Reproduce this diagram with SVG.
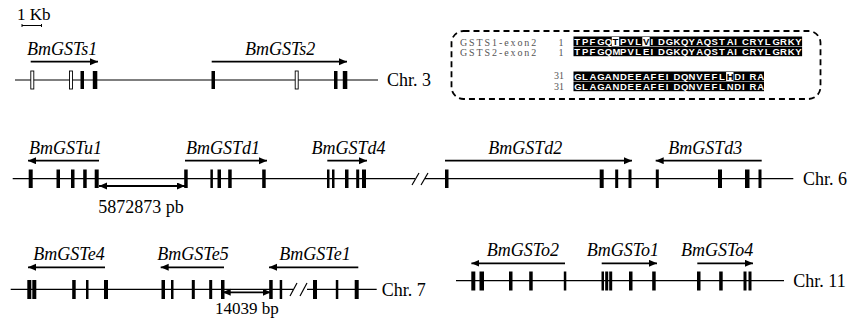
<svg xmlns="http://www.w3.org/2000/svg" width="850" height="322" viewBox="0 0 850 322">
<defs>
<marker id="ah" markerUnits="userSpaceOnUse" markerWidth="9" markerHeight="8" refX="8" refY="3.5" orient="auto-start-reverse"><path d="M0,0 L8,3.5 L0,7 z" fill="#000"/></marker>
<style>
.chr{stroke:#000;stroke-width:1.2;fill:none}
.brk{stroke:#000;stroke-width:1.2}
.ex rect{fill:#000}
.ex rect.o{fill:#fff;stroke:#000;stroke-width:0.9}
.arr{stroke:#000;stroke-width:1.8;marker-end:url(#ah)}
.dbl{stroke:#000;stroke-width:1.8;marker-start:url(#ah);marker-end:url(#ah)}
.g{font-family:"Liberation Serif",serif;font-style:italic;font-size:18px;fill:#000}
.t{font-family:"Liberation Serif",serif;font-size:18px;fill:#000}
.sl{font-family:"Liberation Serif",serif;font-size:10px;letter-spacing:1.9px;fill:#555}
.sn{font-family:"Liberation Serif",serif;font-size:10px;fill:#555}
.sq{font-family:"Liberation Sans",sans-serif;font-weight:bold;font-size:9.5px;fill:#fff}
.hl{fill:#000}
</style>
</defs>

<g id="scale">
<text class="t" x="17" y="20" style="font-size:17px">1 Kb</text>
<line x1="22" y1="25.5" x2="41.5" y2="25.5" stroke="#000" stroke-width="1"/>
<line x1="22" y1="24" x2="22" y2="27" stroke="#000" stroke-width="1"/>
<line x1="41.5" y1="24" x2="41.5" y2="27" stroke="#000" stroke-width="1"/>
</g>

<g id="chr3">
<line class="chr" x1="15" y1="80" x2="378" y2="80"/>
<text class="t" x="387" y="86">Chr. 3</text>
<g class="ex">
<rect class="o" x="30.8" y="71" width="3" height="18"/>
<rect class="o" x="69.5" y="71" width="3" height="18"/>
<rect x="80.5" y="71" width="3.5" height="18"/>
<rect x="92.8" y="71" width="4.5" height="18"/>
<rect x="211.5" y="71" width="3.5" height="18"/>
<rect class="o" x="295.2" y="71" width="3" height="18"/>
<rect x="334" y="71" width="3.5" height="18"/>
<rect x="342.8" y="71" width="4.5" height="18"/>
</g>
</g>

<g id="BmGSTs1">
<text class="g" x="27" y="55">BmGSTs1</text>
<line class="arr" x1="30.7" y1="61.7" x2="98" y2="61.7"/>
</g>
<g id="BmGSTs2">
<text class="g" x="245" y="55">BmGSTs2</text>
<line class="arr" x1="211.7" y1="61.7" x2="347" y2="61.7"/>
</g>

<g id="alignment">
<rect x="451.5" y="31" width="369" height="68" rx="12" ry="12" fill="none" stroke="#000" stroke-width="1.8" stroke-dasharray="6 4"/>
<text class="sl" x="460" y="45.5">GSTS1-exon2</text>
<text class="sl" x="460" y="55.5">GSTS2-exon2</text>
<text class="sn" x="561" y="45.5" text-anchor="middle">1</text>
<text class="sn" x="561" y="55.5" text-anchor="middle">1</text>
<text class="sn" x="564" y="79" text-anchor="end">31</text>
<text class="sn" x="564" y="89.5" text-anchor="end">31</text>
<rect x="573.5" y="36.5" width="228.6" height="9.6" fill="#000"/>
<rect x="573.5" y="46.6" width="228.6" height="9.6" fill="#000"/>
<rect x="573.5" y="71.5" width="190.5" height="9.6" fill="#000"/>
<rect x="573.5" y="81.6" width="190.5" height="9.6" fill="#000"/>
<rect x="611.8" y="37" width="7.4" height="9" fill="#fff"/>
<rect x="642.3" y="37" width="7.4" height="9" fill="#fff"/>
<rect x="726.1" y="72" width="7.4" height="9" fill="#fff"/>
<text class="sq" y="44.8" x="574.3 581.9 589.5 597.2 604.8 612.4 620.0 627.6 635.3 642.9 650.5 658.1 665.7 673.4 681.0 688.6 696.2 703.8 711.5 719.1 726.7 734.3 741.9 749.6 757.2 764.8 772.4 780.0 787.7 795.3">TPFGQ<tspan class="hl">T</tspan>PVL<tspan class="hl">V</tspan>IDGKQYAQSTAICRYLGRKY</text>
<text class="sq" y="54.9" x="574.3 581.9 589.5 597.2 604.8 612.4 620.0 627.6 635.3 642.9 650.5 658.1 665.7 673.4 681.0 688.6 696.2 703.8 711.5 719.1 726.7 734.3 741.9 749.6 757.2 764.8 772.4 780.0 787.7 795.3">TPFGQMPVLEIDGKQYAQSTAICRYLGRKY</text>
<text class="sq" y="79.8" x="574.3 581.9 589.5 597.2 604.8 612.4 620.0 627.6 635.3 642.9 650.5 658.1 665.7 673.4 681.0 688.6 696.2 703.8 711.5 719.1 726.7 734.3 741.9 749.6 757.2">GLAGANDEEAFEIDQNVEFL<tspan class="hl">H</tspan>DIRA</text>
<text class="sq" y="89.9" x="574.3 581.9 589.5 597.2 604.8 612.4 620.0 627.6 635.3 642.9 650.5 658.1 665.7 673.4 681.0 688.6 696.2 703.8 711.5 719.1 726.7 734.3 741.9 749.6 757.2">GLAGANDEEAFEIDQNVEFLNDIRA</text>
</g>

<g id="chr6">
<line class="chr" x1="12.7" y1="178.7" x2="415" y2="178.7"/>
<line class="chr" x1="425" y1="178.7" x2="793.3" y2="178.7"/>
<line class="brk" x1="412" y1="185" x2="419" y2="173"/>
<line class="brk" x1="421" y1="185" x2="428" y2="173"/>
<text class="t" x="803" y="185">Chr. 6</text>
<g class="ex">
<rect x="28.7" y="169.5" width="4" height="18.5"/>
<rect x="56.5" y="169.5" width="3.5" height="18.5"/>
<rect x="71" y="169.5" width="3.5" height="18.5"/>
<rect x="83.2" y="169.5" width="3.5" height="18.5"/>
<rect x="94.7" y="169.5" width="4" height="18.5"/>
<rect x="184.2" y="169.5" width="3.5" height="18.5"/>
<rect x="210.4" y="169.5" width="2.5" height="18.5"/>
<rect x="217.5" y="169.5" width="3.5" height="18.5"/>
<rect x="228.2" y="169.5" width="3.5" height="18.5"/>
<rect x="262.2" y="169.5" width="3.5" height="18.5"/>
<rect x="327" y="169.5" width="2.5" height="18.5"/>
<rect x="332" y="169.5" width="2.5" height="18.5"/>
<rect x="345" y="169.5" width="3.5" height="18.5"/>
<rect x="356.2" y="169.5" width="3" height="18.5"/>
<rect x="362" y="169.5" width="4" height="18.5"/>
<rect x="445" y="169.5" width="3.5" height="18.5"/>
<rect x="599.7" y="169.5" width="4" height="18.5"/>
<rect x="615.2" y="169.5" width="3" height="18.5"/>
<rect x="628.5" y="169.5" width="3" height="18.5"/>
<rect x="655.8" y="169.5" width="3" height="18.5"/>
<rect x="718" y="169.5" width="4" height="18.5"/>
<rect x="745" y="169.5" width="4.5" height="18.5"/>
<rect x="758.5" y="169.5" width="3" height="18.5"/>
</g>
</g>

<g id="BmGSTu1">
<text class="g" x="29" y="153.5">BmGSTu1</text>
<line class="arr" x1="99" y1="160.7" x2="28" y2="160.7"/>
</g>
<g id="BmGSTd1">
<text class="g" x="186" y="153.5">BmGSTd1</text>
<line class="arr" x1="185" y1="160.7" x2="267" y2="160.7"/>
</g>
<g id="BmGSTd4">
<text class="g" x="311.5" y="153.5">BmGSTd4</text>
<line class="arr" x1="327.3" y1="160.7" x2="367" y2="160.7"/>
</g>
<g id="BmGSTd2">
<text class="g" x="488.3" y="153.5">BmGSTd2</text>
<line class="arr" x1="445" y1="160.7" x2="632" y2="160.7"/>
</g>
<g id="BmGSTd3">
<text class="g" x="668.3" y="153.5">BmGSTd3</text>
<line class="arr" x1="761.7" y1="160.7" x2="655.7" y2="160.7"/>
</g>
<g id="dist1">
<line class="dbl" x1="99" y1="186" x2="185" y2="186"/>
<text class="t" x="98.3" y="212.7">5872873 pb</text>
</g>

<g id="chr7">
<line class="chr" x1="10.7" y1="289.3" x2="293" y2="289.3"/>
<line class="chr" x1="307" y1="289.3" x2="376.7" y2="289.3"/>
<line class="brk" x1="290" y1="296" x2="297" y2="283"/>
<line class="brk" x1="300" y1="296" x2="307" y2="283"/>
<text class="t" x="381.7" y="295.5">Chr. 7</text>
<g class="ex">
<rect x="27.3" y="280" width="4" height="19"/>
<rect x="32.3" y="280" width="4" height="19"/>
<rect x="72.2" y="280" width="3.5" height="19"/>
<rect x="86" y="280" width="2.5" height="19"/>
<rect x="104" y="280" width="4" height="19"/>
<rect x="161.5" y="280" width="3.5" height="19"/>
<rect x="171" y="280" width="2.5" height="19"/>
<rect x="191.8" y="280" width="3" height="19"/>
<rect x="209.2" y="280" width="3" height="19"/>
<rect x="221" y="280" width="3.5" height="19"/>
<rect x="269.2" y="280" width="3.5" height="19"/>
<rect x="279.7" y="280" width="2.5" height="19"/>
<rect x="313" y="280" width="4" height="19"/>
<rect x="335.8" y="280" width="2.5" height="19"/>
<rect x="354.7" y="280" width="4" height="19"/>
</g>
</g>

<g id="BmGSTe4">
<text class="g" x="33.3" y="260">BmGSTe4</text>
<line class="arr" x1="105" y1="267.3" x2="28" y2="267.3"/>
</g>
<g id="BmGSTe5">
<text class="g" x="157.3" y="260">BmGSTe5</text>
<line class="arr" x1="224" y1="267.3" x2="160.7" y2="267.3"/>
</g>
<g id="BmGSTe1">
<text class="g" x="279.3" y="260">BmGSTe1</text>
<line class="arr" x1="358.3" y1="267.3" x2="269" y2="267.3"/>
</g>
<g id="dist2">
<line class="dbl" x1="222.7" y1="292.3" x2="270.7" y2="292.3"/>
<text class="t" x="215" y="314" style="font-size:17px">14039 bp</text>
</g>

<g id="chr11">
<line class="chr" x1="456" y1="280.7" x2="784" y2="280.7"/>
<text class="t" x="793.3" y="287">Chr. 11</text>
<g class="ex">
<rect x="471.3" y="271.5" width="4" height="19"/>
<rect x="479.5" y="271.5" width="4.5" height="19"/>
<rect x="509" y="271.5" width="3.5" height="19"/>
<rect x="529.2" y="271.5" width="3.5" height="19"/>
<rect x="563.8" y="271.5" width="2.5" height="19"/>
<rect x="601.5" y="271.5" width="2.5" height="19"/>
<rect x="605.2" y="271.5" width="3" height="19"/>
<rect x="609.2" y="271.5" width="3" height="19"/>
<rect x="629" y="271.5" width="3.5" height="19"/>
<rect x="652.2" y="271.5" width="3.5" height="19"/>
<rect x="697" y="271.5" width="3.5" height="19"/>
<rect x="719.2" y="271.5" width="3.5" height="19"/>
<rect x="743.5" y="271.5" width="3" height="19"/>
<rect x="748.5" y="271.5" width="3" height="19"/>
</g>
</g>

<g id="BmGSTo2">
<text class="g" x="486.7" y="256">BmGSTo2</text>
<line class="arr" x1="565" y1="263.3" x2="471.4" y2="263.3"/>
</g>
<g id="BmGSTo1">
<text class="g" x="586.7" y="256">BmGSTo1</text>
<line class="arr" x1="601.7" y1="263.3" x2="657" y2="263.3"/>
</g>
<g id="BmGSTo4">
<text class="g" x="681" y="256">BmGSTo4</text>
<line class="arr" x1="697.3" y1="263.3" x2="753" y2="263.3"/>
</g>
</svg>
